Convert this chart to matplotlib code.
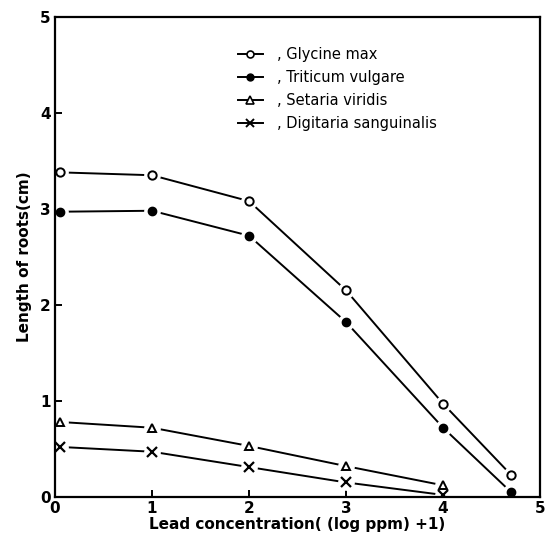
import matplotlib.pyplot as plt
from matplotlib.lines import Line2D

plt.rcParams["font.family"] = "DejaVu Sans"
plt.rcParams["font.weight"] = "bold"

# data
x_long = [0.05, 1, 2, 3, 4, 4.7]
x_short = [0.05, 1, 2, 3, 4]
glycine = [3.38, 3.35, 3.08, 2.15, 0.97, 0.23]
triticum = [2.97, 2.98, 2.72, 1.82, 0.72, 0.05]
setaria = [0.78, 0.72, 0.53, 0.32, 0.12]
digitaria = [0.52, 0.47, 0.31, 0.15, 0.02]

labels = [", Glycine max", ", Triticum vulgare", ", Setaria viridis", ", Digitaria sanguinalis"]

fig = plt.figure(figsize=(5.45, 5.43), dpi=100)
ax = fig.add_axes([0.101, 0.085, 0.89, 0.884])

lw = 1.4
series = [
    (x_long, glycine, dict(marker="o", ms=6, mfc="white", mew=1.4)),
    (x_long, triticum, dict(marker="o", ms=6, mfc="black", mew=1.0)),
    (x_short, setaria, dict(marker="^", ms=6, mfc="white", mew=1.4)),
    (x_short, digitaria, dict(marker="x", ms=7, mew=1.6)),
]
for xs, ys, mk in series:
    ax.plot(xs, ys, color="black", lw=lw, zorder=2)
    # white halo leaves a small gap between line and marker, as in the scan
    ax.plot(xs, ys, ls="none", marker="o", ms=11, mfc="white", mec="white", zorder=3)
    ax.plot(xs, ys, ls="none", mec="black", zorder=4, **mk)

ax.set_xlim(0, 5)
ax.set_ylim(0, 5)
ax.set_xticks(range(6))
ax.set_yticks(range(6))
for s in ax.spines.values():
    s.set_linewidth(1.6)
    s.set_zorder(3.5)
ax.tick_params(direction="in", length=5, width=1.4, labelsize=11, pad=3)
for t in ax.get_xticklabels() + ax.get_yticklabels():
    t.set_fontweight("bold")

ax.set_xlabel("Lead concentration( (log ppm) +1)", fontsize=11, fontweight="bold", labelpad=1)
ax.set_ylabel("Length of roots(cm)", fontsize=11, fontweight="bold", labelpad=6)

handles = [
    Line2D([], [], color="black", lw=lw, marker="o", ms=5, mfc="white", mew=1.2),
    Line2D([], [], color="black", lw=lw, marker="o", ms=5, mfc="black"),
    Line2D([], [], color="black", lw=lw, marker="^", ms=6, mfc="white", mew=1.2),
    Line2D([], [], color="black", lw=lw, marker="x", ms=6, mew=1.4),
]
leg = ax.legend(handles, labels, loc="upper left", bbox_to_anchor=(0.35, 0.965),
                frameon=False, fontsize=10.5, handlelength=1.7, handletextpad=1.0,
                labelspacing=0.55)
for t in leg.get_texts():
    t.set_fontweight("normal")

fig.savefig("out.png", dpi=100)
